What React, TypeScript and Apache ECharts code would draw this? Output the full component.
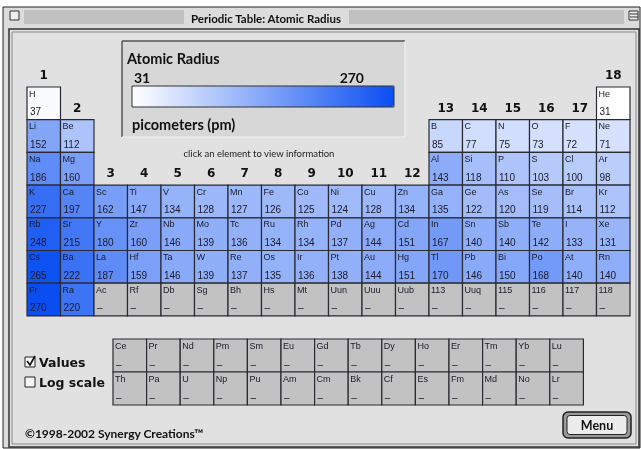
import React, { useEffect, useRef } from "react";
import * as echarts from "echarts";

// ---------- DATA ----------
const groupLabels = ["1", "2", "3", "4", "5", "6", "7", "8", "9", "10", "11", "12", "13", "14", "15", "16", "17", "18"];
// row (0-based period) above which each group label sits
const groupLabelRows = [0, 1, 3, 3, 3, 3, 3, 3, 3, 3, 3, 3, 1, 1, 1, 1, 1, 0];

const p1Sym = ["H", "", "", "", "", "", "", "", "", "", "", "", "", "", "", "", "", "He"];
const p1Val = [37, null, null, null, null, null, null, null, null, null, null, null, null, null, null, null, null, 31];
const p2Sym = ["Li", "Be", "", "", "", "", "", "", "", "", "", "", "B", "C", "N", "O", "F", "Ne"];
const p2Val = [152, 112, null, null, null, null, null, null, null, null, null, null, 85, 77, 75, 73, 72, 71];
const p3Sym = ["Na", "Mg", "", "", "", "", "", "", "", "", "", "", "Al", "Si", "P", "S", "Cl", "Ar"];
const p3Val = [186, 160, null, null, null, null, null, null, null, null, null, null, 143, 118, 110, 103, 100, 98];
const p4Sym = ["K", "Ca", "Sc", "Ti", "V", "Cr", "Mn", "Fe", "Co", "Ni", "Cu", "Zn", "Ga", "Ge", "As", "Se", "Br", "Kr"];
const p4Val = [227, 197, 162, 147, 134, 128, 127, 126, 125, 124, 128, 134, 135, 122, 120, 119, 114, 112];
const p5Sym = ["Rb", "Sr", "Y", "Zr", "Nb", "Mo", "Tc", "Ru", "Rh", "Pd", "Ag", "Cd", "In", "Sn", "Sb", "Te", "I", "Xe"];
const p5Val = [248, 215, 180, 160, 146, 139, 136, 134, 134, 137, 144, 151, 167, 140, 140, 142, 133, 131];
const p6Sym = ["Cs", "Ba", "La", "Hf", "Ta", "W", "Re", "Os", "Ir", "Pt", "Au", "Hg", "Tl", "Pb", "Bi", "Po", "At", "Rn"];
const p6Val = [265, 222, 187, 159, 146, 139, 137, 135, 136, 138, 144, 151, 170, 146, 150, 168, 140, 140];
const p7Sym = ["Fr", "Ra", "Ac", "Rf", "Db", "Sg", "Bh", "Hs", "Mt", "Uun", "Uuu", "Uub", "113", "Uuq", "115", "116", "117", "118"];
const p7Val = [270, 220, "-", "-", "-", "-", "-", "-", "-", "-", "-", "-", "-", "-", "-", "-", "-", "-"];

const lanthSym = ["Ce", "Pr", "Nd", "Pm", "Sm", "Eu", "Gd", "Tb", "Dy", "Ho", "Er", "Tm", "Yb", "Lu"];
const lanthVal = ["-", "-", "-", "-", "-", "-", "-", "-", "-", "-", "-", "-", "-", "-"];
const actSym = ["Th", "Pa", "U", "Np", "Pu", "Am", "Cm", "Bk", "Cf", "Es", "Fm", "Md", "No", "Lr"];
const actVal = ["-", "-", "-", "-", "-", "-", "-", "-", "-", "-", "-", "-", "-", "-"];

const radiusMin = 31;
const radiusMax = 270;

// ---------- build series data ----------
const mainRows: [string[], (number | string | null)[]][] = [
  [p1Sym, p1Val], [p2Sym, p2Val], [p3Sym, p3Val], [p4Sym, p4Val],
  [p5Sym, p5Val], [p6Sym, p6Val], [p7Sym, p7Val],
];
const mainData: any[] = [];
const mainSyms: string[] = [];
mainRows.forEach(([syms, vals], r) => {
  syms.forEach((s, c) => {
    if (s !== "") {
      mainData.push([c, r, vals[c] == null ? "-" : vals[c]]);
      mainSyms.push(s);
    }
  });
});
const fData: any[] = [];
const fSyms: string[] = [];
[[lanthSym, lanthVal], [actSym, actVal]].forEach(([syms, vals]: any, r) => {
  syms.forEach((s: string, c: number) => {
    fData.push([c, r, vals[c]]);
    fSyms.push(s);
  });
});

const CELL_FONT = "'Liberation Sans Narrow', 'Liberation Sans', Arial, sans-serif";
const UI_FONT = "Lato, 'Open Sans', sans-serif";

function makeRender(syms: string[]) {
  return (params: any, api: any) => {
    const c = api.value(0);
    const r = api.value(1);
    const v = api.value(2);
    const p0 = api.coord([c, r]);
    const p1 = api.coord([c + 1, r + 1]);
    const x = p0[0];
    const y = p0[1];
    const w = p1[0] - p0[0];
    const h = p1[1] - p0[1];
    const has = !isNaN(v);
    const fill = has ? api.visual("color") : "#c2c2c2";
    return {
      type: "group",
      children: [
        { type: "rect", shape: { x, y, width: w, height: h }, style: { fill, stroke: "#2a2a33", lineWidth: 1.2 } },
        {
          type: "text", x: x + 2, y: y + 2,
          style: { text: syms[params.dataIndex], font: `9px ${CELL_FONT}`, fill: "#1a1a2a", verticalAlign: "top", align: "left" },
        },
        {
          type: "text", x: x + 3, y: y + h - 3,
          style: { text: has ? String(v) : "–", font: `10px ${CELL_FONT}`, fill: "#1a1a2a", verticalAlign: "bottom", align: "left" },
        },
      ],
    };
  };
}

export default function App() {
  const ref = useRef<HTMLDivElement>(null);
  useEffect(() => {
    if (!ref.current) return;
    const chart = echarts.init(ref.current, null, { renderer: "svg" });

    const gLeft = 27, gTop = 87, cellW = 33.5, cellH = 32.7;
    const groupText = groupLabels.map((t, i) => ({
      type: "text",
      x: gLeft + (i + 0.5) * cellW,
      y: gTop + groupLabelRows[i] * cellH - 12,
      z: 5,
      style: { text: t, font: `bold 12px 'DejaVu Sans', sans-serif`, fill: "#111", align: "center", verticalAlign: "middle" },
    }));

    const stripes: any[] = [];
    for (let i = 0; i < 7; i++) {
      stripes.push({ type: "line", z: 1, shape: { x1: 24, y1: 11 + i * 2, x2: 184, y2: 11 + i * 2 }, style: { stroke: "#a4a4a4", lineWidth: 1 } });
      stripes.push({ type: "line", z: 1, shape: { x1: 349, y1: 11 + i * 2, x2: 624, y2: 11 + i * 2 }, style: { stroke: "#a4a4a4", lineWidth: 1 } });
    }

    chart.setOption({
      animation: false,
      grid: [
        { left: gLeft, top: gTop, width: cellW * 18, height: cellH * 7 },
        { left: 113, top: 339, width: 33.6 * 14, height: 66 },
      ],
      xAxis: [
        { type: "value", min: 0, max: 18, show: false, gridIndex: 0 },
        { type: "value", min: 0, max: 14, show: false, gridIndex: 1 },
      ],
      yAxis: [
        { type: "value", min: 0, max: 7, inverse: true, show: false, gridIndex: 0 },
        { type: "value", min: 0, max: 2, inverse: true, show: false, gridIndex: 1 },
      ],
      visualMap: {
        type: "continuous",
        min: radiusMin,
        max: radiusMax,
        dimension: 2,
        seriesIndex: [0, 1],
        orient: "horizontal",
        left: 132,
        top: 86,
        itemWidth: 21,
        itemHeight: 262,
        padding: 0,
        calculable: false,
        hoverLink: false,
        inRange: { color: ["#ffffff", "#0a4ef2"] },
        z: 6,
      },
      series: [
        {
          type: "custom", xAxisIndex: 0, yAxisIndex: 0, data: mainData,
          renderItem: makeRender(mainSyms), encode: { x: 0, y: 1 }, z: 3,
        },
        {
          type: "custom", xAxisIndex: 1, yAxisIndex: 1, data: fData,
          renderItem: makeRender(fSyms), encode: { x: 0, y: 1 }, z: 3,
        },
      ],
      graphic: [
        { type: "rect", z: -10, shape: { x: 0, y: 0, width: 641, height: 449 }, style: { fill: "#ffffff" } },
        { type: "rect", z: -9, shape: { x: 3, y: 7, width: 637, height: 441 }, style: { fill: "#dcdcdc", stroke: "#222", lineWidth: 1 } },
        ...stripes,
        { type: "rect", z: 2, shape: { x: 185, y: 9, width: 163, height: 18 }, style: { fill: "#dcdcdc" } },
        {
          type: "text", z: 3, x: 266, y: 18,
          style: { text: "Periodic Table: Atomic Radius", font: `bold 11.5px ${UI_FONT}`, fill: "#111", align: "center", verticalAlign: "middle" },
        },
        { type: "rect", z: 3, shape: { x: 10, y: 11, width: 9, height: 9 }, style: { fill: "#eeeeee", stroke: "#333", lineWidth: 1 } },
        { type: "rect", z: 3, shape: { x: 629, y: 11, width: 9, height: 9 }, style: { fill: "#eeeeee", stroke: "#333", lineWidth: 1 } },
        { type: "line", z: 3, shape: { x1: 630, y1: 14, x2: 638, y2: 14 }, style: { stroke: "#333", lineWidth: 1 } },
        { type: "line", z: 3, shape: { x1: 630, y1: 17, x2: 638, y2: 17 }, style: { stroke: "#333", lineWidth: 1 } },
        // content frame
        { type: "rect", z: -8, shape: { x: 9, y: 29, width: 630, height: 418 }, style: { fill: "#e1e1e1", stroke: "#333", lineWidth: 1.5 } },
        { type: "rect", z: -7, shape: { x: 12, y: 32, width: 624, height: 412 }, style: { fill: "#e1e1e1", stroke: "#8a8a8a", lineWidth: 1 } },
        // legend box
        { type: "rect", z: -6, shape: { x: 122, y: 41, width: 283, height: 96 }, style: { fill: "#d7d7d7" } },
        { type: "line", z: -5, shape: { x1: 122, y1: 41, x2: 405, y2: 41 }, style: { stroke: "#555", lineWidth: 1.5 } },
        { type: "line", z: -5, shape: { x1: 122, y1: 41, x2: 122, y2: 137 }, style: { stroke: "#555", lineWidth: 1.5 } },
        { type: "line", z: -5, shape: { x1: 405, y1: 41, x2: 405, y2: 137 }, style: { stroke: "#f2f2f2", lineWidth: 1 } },
        { type: "line", z: -5, shape: { x1: 122, y1: 137, x2: 405, y2: 137 }, style: { stroke: "#f2f2f2", lineWidth: 1 } },
        {
          type: "text", z: 5, x: 127, y: 58,
          style: { text: "Atomic Radius", font: `bold 14.5px ${UI_FONT}`, fill: "#111", verticalAlign: "middle" },
        },
        {
          type: "text", z: 5, x: 134, y: 77,
          style: { text: String(radiusMin), font: `bold 14px ${UI_FONT}`, fill: "#111", verticalAlign: "middle" },
        },
        {
          type: "text", z: 5, x: 364, y: 77,
          style: { text: String(radiusMax), font: `bold 14px ${UI_FONT}`, fill: "#111", align: "right", verticalAlign: "middle" },
        },
        { type: "rect", z: 8, shape: { x: 132, y: 86, width: 262, height: 21 }, style: { fill: "none", stroke: "#333", lineWidth: 1 } },
        {
          type: "text", z: 5, x: 132, y: 124,
          style: { text: "picometers (pm)", font: `bold 14.5px ${UI_FONT}`, fill: "#111", verticalAlign: "middle" },
        },
        {
          type: "text", z: 5, x: 259, y: 153,
          style: { text: "click an element to view information", font: `9.5px ${UI_FONT}`, fill: "#222", align: "center", verticalAlign: "middle" },
        },
        ...groupText,
        // checkboxes
        { type: "rect", z: 5, shape: { x: 25, y: 357, width: 10, height: 10 }, style: { fill: "#f4f4f4", stroke: "#222", lineWidth: 1 } },
        { type: "polyline", z: 6, shape: { points: [[27, 361], [30, 365], [35, 356]] }, style: { stroke: "#111", lineWidth: 1.6, fill: "none" } },
        {
          type: "text", z: 5, x: 39, y: 362,
          style: { text: "Values", font: `bold 12.5px 'DejaVu Sans', sans-serif`, fill: "#111", verticalAlign: "middle" },
        },
        { type: "rect", z: 5, shape: { x: 25, y: 377, width: 10, height: 10 }, style: { fill: "#f4f4f4", stroke: "#222", lineWidth: 1 } },
        {
          type: "text", z: 5, x: 39, y: 382,
          style: { text: "Log scale", font: `bold 12.5px 'DejaVu Sans', sans-serif`, fill: "#111", verticalAlign: "middle" },
        },
        {
          type: "text", z: 5, x: 25, y: 433,
          style: { text: "©1998-2002 Synergy Creations™", font: `bold 12px ${UI_FONT}`, fill: "#111", verticalAlign: "middle" },
        },
        // Menu button
        { type: "rect", z: 5, shape: { x: 563, y: 412, width: 68, height: 26, r: 5 }, style: { fill: "#9a9a9a", stroke: "#222", lineWidth: 1.5 } },
        { type: "rect", z: 6, shape: { x: 567, y: 415.5, width: 60, height: 19, r: 3 }, style: { fill: "#ececec", stroke: "#222", lineWidth: 1 } },
        {
          type: "text", z: 7, x: 597, y: 425,
          style: { text: "Menu", font: `bold 12.5px ${UI_FONT}`, fill: "#111", align: "center", verticalAlign: "middle" },
        },
      ],
    });
    return () => chart.dispose();
  }, []);
  return <div ref={ref} style={{ position: "fixed", left: 0, top: 0, width: 641, height: 449 }} />;
}
